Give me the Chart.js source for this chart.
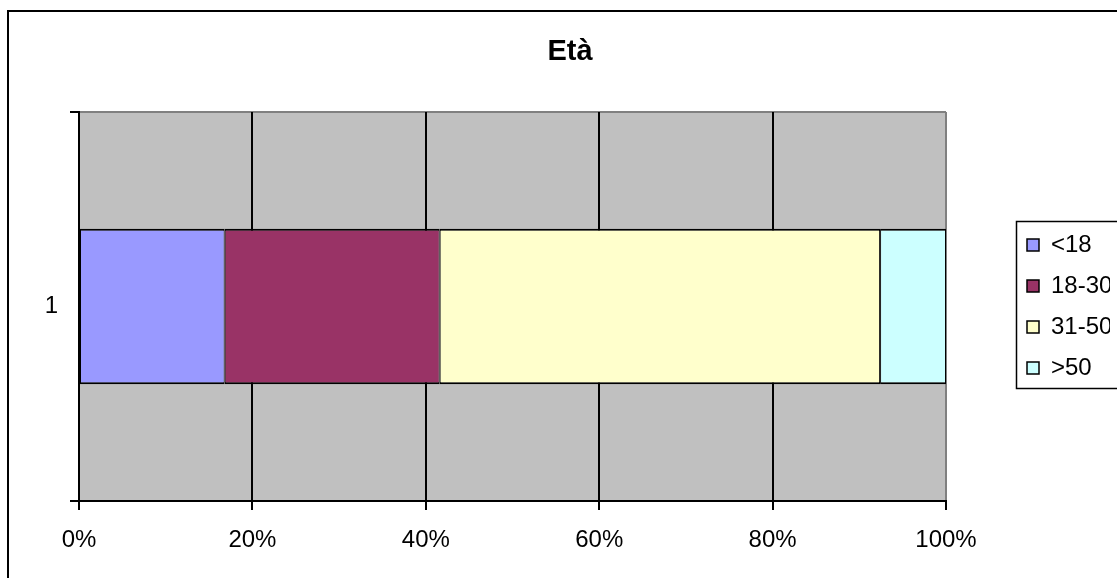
<!DOCTYPE html>
<html><head><meta charset="utf-8">
<script src="https://cdn.jsdelivr.net/npm/chart.js@4"></script>
<style>html,body{margin:0;padding:0;background:#fff;overflow:hidden;width:1117px;height:578px}canvas{display:block}</style>
</head><body>
<canvas id="c" width="1140" height="578"></canvas>
<script>
const chartTitle = 'Età';
const categories = ['1'];
const seriesNames = ['<18', '18-30', '31-50', '>50'];
const under18 = [16.8];
const age18to30 = [24.8];
const age31to50 = [50.8];
const over50 = [7.6];
const xTickLabels = ['0%', '20%', '40%', '60%', '80%', '100%'];
const seriesColors = ['#9999FF', '#993366', '#FFFFCC', '#CCFFFF'];

const seriesValues = [under18, age18to30, age31to50, over50];

Chart.defaults.font.family = "'Liberation Sans', Arial, sans-serif";
Chart.defaults.color = '#000';

const framePlugin = {
  id: 'frames',
  beforeDraw(chart) {
    const {ctx, chartArea: a} = chart;
    ctx.save();
    ctx.fillStyle = '#fff';
    ctx.fillRect(0, 0, chart.width, chart.height);
    ctx.fillStyle = '#C0C0C0';
    ctx.fillRect(a.left, a.top, a.right - a.left, a.bottom - a.top);
    ctx.strokeStyle = '#808080';
    ctx.lineWidth = 2;
    ctx.beginPath();
    ctx.moveTo(a.left, a.top);
    ctx.lineTo(a.right, a.top);
    ctx.stroke();
    ctx.strokeStyle = '#000';
    ctx.lineWidth = 2;
    ctx.strokeRect(8, 11, chart.width + 50, chart.height + 50);
    ctx.restore();
  },
  afterDraw(chart) {
    const {ctx, chartArea: a, legend} = chart;
    const mid = (a.top + a.bottom) / 2;
    ctx.save();
    ctx.strokeStyle = '#000';
    ctx.lineWidth = 1.5;
    ctx.strokeRect(Math.round(legend.left + 6) + 0.5, Math.round(mid - 85.5) + 0.5, 300, 167);
    ctx.restore();
  }
};

new Chart(document.getElementById('c'), {
  type: 'bar',
  data: {
    labels: categories,
    datasets: seriesNames.map((name, i) => ({
      label: name,
      data: seriesValues[i],
      backgroundColor: seriesColors[i],
      borderColor: '#000',
      borderWidth: {top: 2, bottom: 2, left: 1, right: 1},
      borderSkipped: false,
      barPercentage: 0.4,
      categoryPercentage: 1.0
    }))
  },
  options: {
    indexAxis: 'y',
    responsive: false,
    devicePixelRatio: 1,
    animation: false,
    layout: {padding: {left: 30, right: 30, top: 0, bottom: 0}},
    scales: {
      x: {
        stacked: true,
        min: 0,
        max: 100,
        grid: {
          color: (c) => (c.tick && c.tick.value === 100) ? '#808080' : '#000',
          tickColor: '#000',
          tickLength: 9,
          lineWidth: 2,
          tickWidth: 2
        },
        border: {display: true, color: '#000', width: 2},
        ticks: {
          stepSize: 20,
          padding: 16,
          font: {size: 24},
          color: '#000',
          maxRotation: 0,
          callback: (v, i) => xTickLabels[i]
        },
        afterFit: (s) => { s.height = 77; }
      },
      y: {
        stacked: true,
        grid: {drawOnChartArea: false, color: '#000', tickColor: '#000', tickLength: 9, lineWidth: 2, tickWidth: 2},
        border: {display: true, color: '#000', width: 2},
        ticks: {padding: 12, font: {size: 24}, color: '#000'},
        afterFit: (s) => { s.width = 49; }
      },
      gapRight: {
        type: 'linear',
        position: 'right',
        display: true,
        grid: {display: false, drawTicks: false},
        border: {display: false},
        ticks: {display: false},
        afterFit: (s) => { s.width = 64; }
      }
    },
    plugins: {
      title: {
        display: true,
        text: chartTitle,
        color: '#000',
        font: {size: 29, weight: 'bold'},
        padding: {top: 34.6, bottom: 42.6}
      },
      legend: {
        display: true,
        position: 'right',
        fullSize: false,
        maxWidth: 100,
        labels: {
          boxWidth: 12,
          boxHeight: 12,
          padding: 17,
          color: '#000',
          font: {size: 24}
        }
      },
      tooltip: {enabled: false}
    }
  },
  plugins: [framePlugin]
});
</script>
</body></html>
